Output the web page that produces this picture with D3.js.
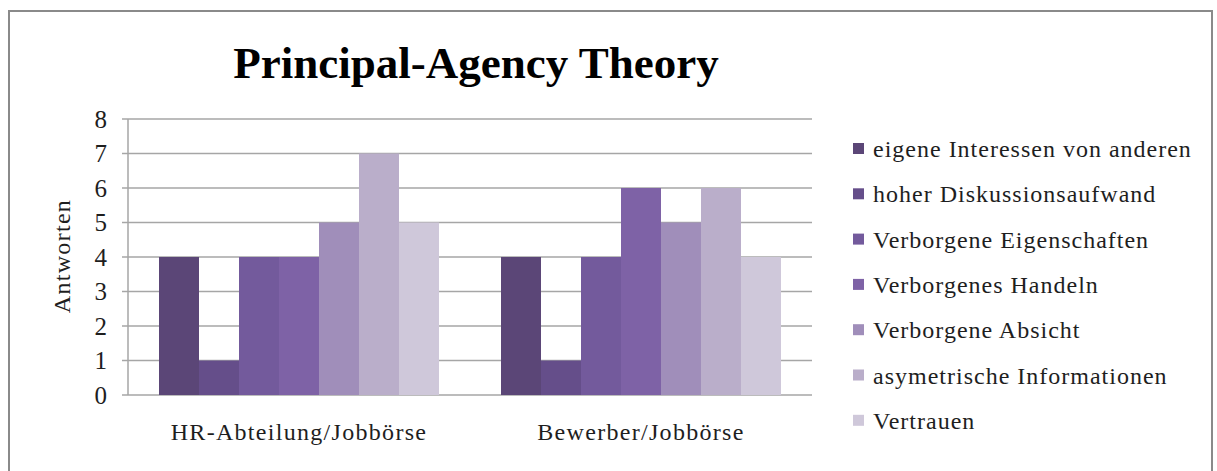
<!DOCTYPE html>
<html><head><meta charset="utf-8">
<script src="https://cdn.jsdelivr.net/npm/d3@7"></script>
<style>body{margin:0;background:#fff}svg{display:block}</style>
</head><body>
<svg id="c" width="1217" height="471"></svg>
<script>
const categories = ["HR-Abteilung/Jobbörse", "Bewerber/Jobbörse"];
const seriesNames = ["eigene Interessen von anderen","hoher Diskussionsaufwand","Verborgene Eigenschaften","Verborgenes Handeln","Verborgene Absicht","asymetrische Informationen","Vertrauen"];
const hrValues = [4,1,4,4,5,7,5];
const bewerberValues = [4,1,4,6,5,6,4];
const colors = ["#5b4677","#654e8a","#735a9c","#7e62a6","#a08eba","#baaeca","#cfc8da"];
const yTicks = [0,1,2,3,4,5,6,7,8];
const title = "Principal-Agency Theory";
const yTitle = "Antworten";

(function(){
const valuesByCat = [hrValues, bewerberValues];
const svg = d3.select("#c");
const serif = "'Liberation Serif','Times New Roman',serif";
const txt = "#1e1e1e";

// frame
svg.append("rect").attr("x",9).attr("y",11).attr("width",1203).attr("height",470)
  .attr("fill","#fff").attr("stroke","#8a8a8a").attr("stroke-width",2);

const pL=128,pR=812,pT=119,pB=395;
const x0 = d3.scaleBand().domain(categories).range([pL,pR]).padding(0);
const x1 = d3.scaleBand().domain(seriesNames).range([0,x0.bandwidth()]).paddingInner(0).paddingOuter(0.775);
const y = d3.scaleLinear().domain([0,8]).range([pB,pT]);

// gridlines
svg.append("g").selectAll("line").data(yTicks).join("line")
  .attr("x1",pL-6).attr("x2",pR).attr("y1",d=>y(d)).attr("y2",d=>y(d))
  .attr("stroke","#a6a6a6").attr("stroke-width",1.5);
// y axis line
svg.append("line").attr("x1",pL).attr("x2",pL).attr("y1",pT).attr("y2",pB)
  .attr("stroke","#a6a6a6").attr("stroke-width",1.5);

// bars
const g = svg.append("g");
categories.forEach((c,ci)=>{
  g.append("g").attr("transform",`translate(${x0(c)},0)`)
   .selectAll("rect").data(valuesByCat[ci]).join("rect")
   .attr("x",(d,i)=>x1(seriesNames[i])).attr("width",x1.bandwidth())
   .attr("y",d=>y(d)).attr("height",d=>y(0)-y(d))
   .attr("fill",(d,i)=>colors[i]);
});

// y tick labels
svg.append("g").selectAll("text").data(yTicks).join("text")
  .attr("x",107).attr("y",d=>y(d)).attr("dy","0.35em").attr("text-anchor","end")
  .attr("font-family",serif).attr("font-size",25).attr("fill",txt).text(d=>d);

// y title
svg.append("text").attr("transform","translate(70,256) rotate(-90)")
  .attr("text-anchor","middle").attr("font-family",serif).attr("font-size",24)
  .attr("letter-spacing",1.3).attr("fill",txt).text(yTitle);

// category labels
svg.append("g").selectAll("text").data(categories).join("text")
  .attr("x",d=>x0(d)+x0.bandwidth()/2).attr("y",440).attr("text-anchor","middle")
  .attr("font-family",serif).attr("font-size",24).attr("letter-spacing",1.3).attr("fill",txt).text(d=>d);

// title
svg.append("text").attr("x",476).attr("y",78).attr("text-anchor","middle")
  .attr("font-family",serif).attr("font-weight","bold").attr("font-size",45).attr("fill","#000").text(title);

// legend
const lg = svg.append("g").selectAll("g").data(seriesNames).join("g")
  .attr("transform",(d,i)=>`translate(853,${148.5+i*45.3})`);
lg.append("rect").attr("x",0).attr("y",-5.5).attr("width",11).attr("height",11).attr("fill",(d,i)=>colors[i]);
lg.append("text").attr("x",20).attr("y",8.5)
  .attr("font-family",serif).attr("font-size",24).attr("letter-spacing",1).attr("fill",txt).text(d=>d);
})();
</script>
</body></html>
